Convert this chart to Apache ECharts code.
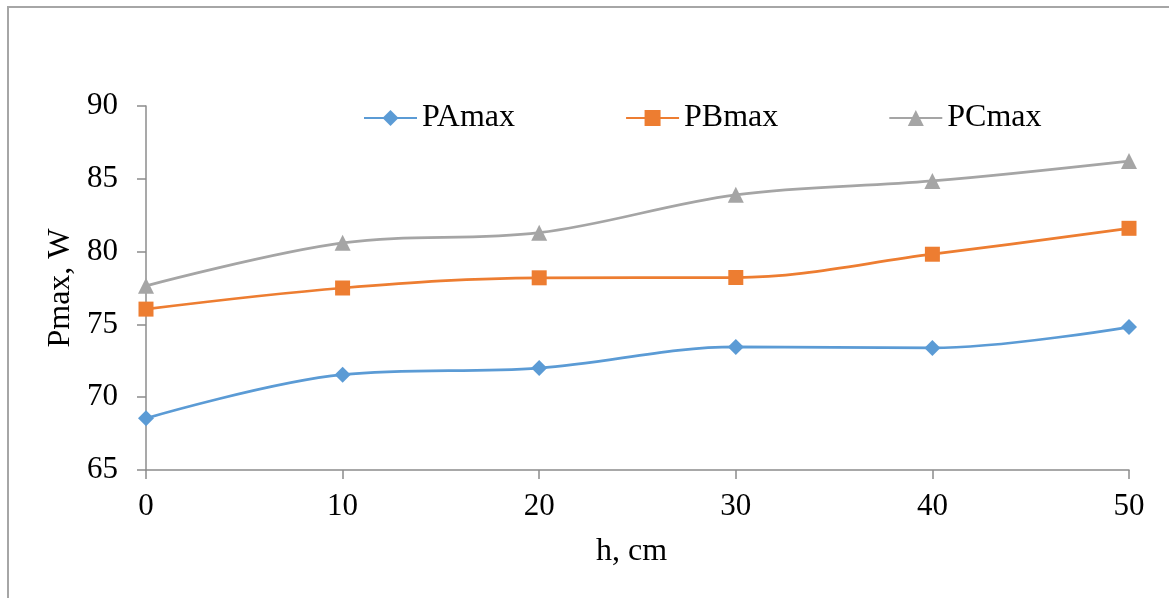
<!DOCTYPE html>
<html>
<head>
<meta charset="utf-8">
<script src="https://cdn.jsdelivr.net/npm/echarts@6/dist/echarts.min.js"></script>
<style>
  html, body { margin: 0; padding: 0; background: #fff; }
  #chart { width: 1169px; height: 598px; }
</style>
</head>
<body>
<div id="chart"></div>
<script>
// Heights h (cm) and maximum power readings (W)
const heights = [0, 10, 20, 30, 40, 50];
const pAmax = [68.55, 71.55, 72.0, 73.45, 73.38, 74.82];
const pBmax = [76.05, 77.5, 78.2, 78.22, 79.82, 81.6];
const pCmax = [77.65, 80.6, 81.3, 83.9, 84.85, 86.22];
const yTicks = [65, 70, 75, 80, 85, 90];

const FONT = '"Liberation Serif", "Times New Roman", serif';
const AXIS_GRAY = '#8c8c8c';

function pairs(vals) {
  return heights.map((h, i) => [h, vals[i]]);
}

function lineSeries(name, vals, color, symbol, size) {
  return {
    name: name,
    type: 'line',
    data: pairs(vals),
    smooth: 0.35,
    symbol: symbol,
    symbolSize: size,
    showAllSymbol: true,
    lineStyle: { color: color, width: 2.75 },
    itemStyle: { color: color },
    emphasis: { disabled: true }
  };
}

const chart = echarts.init(document.getElementById('chart'), null, { renderer: 'canvas' });

chart.setOption({
  animation: false,
  backgroundColor: '#ffffff',
  graphic: [{
    type: 'rect',
    shape: { x: 8, y: 7, width: 1300, height: 800 },
    style: { fill: 'none', stroke: '#a6a6a6', lineWidth: 2 },
    silent: true,
    z: -10
  }],
  legend: {
    left: 358,
    top: 97,
    itemWidth: 53,
    itemHeight: 20,
    itemGap: 110,
    textStyle: { fontFamily: FONT, fontSize: 32, color: '#000' },
    data: ['PAmax', 'PBmax', 'PCmax']
  },
  grid: { left: 146, right: 40, top: 106, bottom: 128, containLabel: false },
  xAxis: {
    type: 'value',
    min: 0,
    max: 50,
    interval: 10,
    name: 'h, cm',
    nameLocation: 'middle',
    nameGap: 66,
    nameTextStyle: { fontFamily: FONT, fontSize: 32, color: '#000', padding: [0, 12, 0, 0] },
    axisLine: { show: true, onZero: false, lineStyle: { color: AXIS_GRAY, width: 1.5 } },
    axisTick: { show: true, inside: false, length: 9, lineStyle: { color: AXIS_GRAY, width: 1.5 } },
    axisLabel: { fontFamily: FONT, fontSize: 31, color: '#000', margin: 21 },
    splitLine: { show: false }
  },
  yAxis: {
    type: 'value',
    min: yTicks[0],
    max: yTicks[yTicks.length - 1],
    interval: 5,
    name: 'Pmax, W',
    nameLocation: 'middle',
    nameGap: 66,
    nameRotate: 90,
    nameTextStyle: { fontFamily: FONT, fontSize: 32, color: '#000' },
    axisLine: { show: true, lineStyle: { color: AXIS_GRAY, width: 1.5 } },
    axisTick: { show: true, inside: false, length: 9, lineStyle: { color: AXIS_GRAY, width: 1.5 } },
    axisLabel: { fontFamily: FONT, fontSize: 31, color: '#000', margin: 28 },
    splitLine: { show: false }
  },
  series: [
    lineSeries('PAmax', pAmax, '#5b9bd5', 'diamond', 16),
    lineSeries('PBmax', pBmax, '#ed7d31', 'rect', 15),
    lineSeries('PCmax', pCmax, '#a5a5a5', 'triangle', 16)
  ]
});
</script>
</body>
</html>
